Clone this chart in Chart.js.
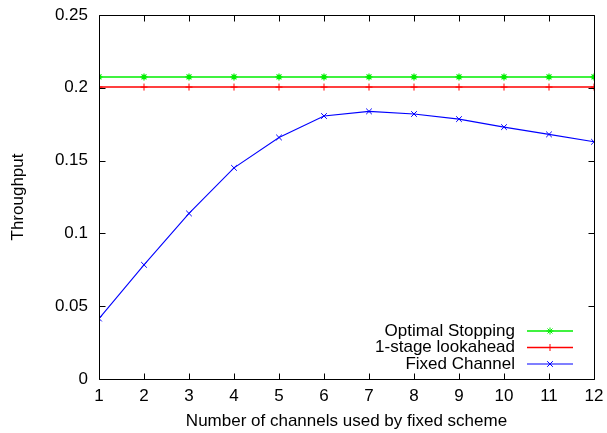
<!DOCTYPE html>
<html>
<head>
<meta charset="utf-8">
<script src="https://cdn.jsdelivr.net/npm/chart.js@4/dist/chart.umd.min.js"></script>
<style>
html,body{margin:0;padding:0;background:#fff;}
#wrap{width:607px;height:433px;position:relative;}
</style>
</head>
<body>
<div id="wrap"><canvas id="c" width="607" height="433"></canvas></div>
<script>
const channels = [1, 2, 3, 4, 5, 6, 7, 8, 9, 10, 11, 12];
const optimalStopping = [0.2075, 0.2075, 0.2075, 0.2075, 0.2075, 0.2075, 0.2075, 0.2075, 0.2075, 0.2075, 0.2075, 0.2075];
const lookahead = [0.2005, 0.2005, 0.2005, 0.2005, 0.2005, 0.2005, 0.2005, 0.2005, 0.2005, 0.2005, 0.2005, 0.2005];
const fixedChannel = [0.0415, 0.0784, 0.1137, 0.145, 0.1659, 0.1806, 0.1838, 0.182, 0.1785, 0.173, 0.168, 0.1629];
const yTickValues = [0, 0.05, 0.1, 0.15, 0.2, 0.25];
const yTickLabels = ['0', '0.05', '0.1', '0.15', '0.2', '0.25'];
const seriesNames = ['Optimal Stopping', '1-stage lookahead', 'Fixed Channel'];
const xTitle = 'Number of channels used by fixed scheme';
const yTitle = 'Throughput';

const FONT = '"Liberation Sans", Arial, Helvetica, sans-serif';

function toXY(vals){ return channels.map((c,i)=>({x:c,y:vals[i]})); }

function drawMarker(ctx, style, x, y, r){
  ctx.beginPath();
  if (style === 'cross' || style === 'star'){
    ctx.moveTo(x-r,y); ctx.lineTo(x+r,y);
    ctx.moveTo(x,y-r); ctx.lineTo(x,y+r);
  }
  if (style === 'crossRot' || style === 'star'){
    const d = r*Math.SQRT1_2;
    ctx.moveTo(x-d,y-d); ctx.lineTo(x+d,y+d);
    ctx.moveTo(x-d,y+d); ctx.lineTo(x+d,y-d);
  }
  ctx.stroke();
}

const framePlugin = {
  id:'frame',
  afterDatasetsDraw(chart){
    const ctx = chart.ctx;
    const a = chart.chartArea;
    const xs = chart.scales.x, ys = chart.scales.y;
    ctx.save();
    ctx.strokeStyle = '#000';
    ctx.lineWidth = 1;
    const L = Math.round(a.left)+0.5, R = Math.round(a.right)+0.5, T = Math.round(a.top)+0.5, B = Math.round(a.bottom)+0.5;
    ctx.beginPath();
    ctx.rect(L, T, R-L, B-T);
    ctx.stroke();
    const tl = 6;
    ctx.beginPath();
    xs.ticks.forEach(t=>{
      const px = Math.round(xs.getPixelForValue(t.value))+0.5;
      ctx.moveTo(px,B); ctx.lineTo(px,B-tl);
      ctx.moveTo(px,T); ctx.lineTo(px,T+tl);
    });
    ys.ticks.forEach(t=>{
      const py = Math.round(ys.getPixelForValue(t.value))+0.5;
      ctx.moveTo(L,py); ctx.lineTo(L+tl,py);
      ctx.moveTo(R,py); ctx.lineTo(R-tl,py);
    });
    ctx.stroke();

    // legend inside plot, bottom right
    ctx.font = '17px ' + FONT;
    ctx.textAlign = 'right';
    ctx.textBaseline = 'middle';
    const rows = [331, 347.5, 364];
    chart.data.datasets.forEach((ds,i)=>{
      const y = rows[i];
      ctx.fillStyle = '#000';
      ctx.fillText(ds.label, 515, y);
      ctx.strokeStyle = ds.borderColor;
      ctx.lineWidth = ds.borderWidth;
      ctx.beginPath(); ctx.moveTo(527,y); ctx.lineTo(573,y); ctx.stroke();
      ctx.lineWidth = 1;
      drawMarker(ctx, ds.pointStyle, 550, y, ds.pointRadius);
    });
    ctx.restore();
  }
};

new Chart(document.getElementById('c'), {
  type:'line',
  data:{
    datasets:[
      {label:seriesNames[0], data:toXY(optimalStopping), borderColor:'#00ee00', backgroundColor:'#00ee00', borderWidth:1.5, pointStyle:'star', pointRadius:3.5, pointBorderWidth:1.2, pointBorderColor:'#00ee00'},
      {label:seriesNames[1], data:toXY(lookahead), borderColor:'#ff0000', backgroundColor:'#ff0000', borderWidth:1.5, pointStyle:'cross', pointRadius:3.5, pointBorderWidth:1, pointBorderColor:'#ff0000'},
      {label:seriesNames[2], data:toXY(fixedChannel), borderColor:'#0000ff', backgroundColor:'#0000ff', borderWidth:1.1, pointStyle:'crossRot', pointRadius:4, pointBorderWidth:1, pointBorderColor:'#0000ff'}
    ]
  },
  options:{
    responsive:false,
    animation:false,
    events:[],
    layout:{padding:{left:0,right:13,top:15,bottom:0}},
    plugins:{legend:{display:false}, tooltip:{enabled:false}},
    elements:{line:{tension:0}},
    scales:{
      x:{
        type:'linear', min:1, max:12,
        grid:{display:false, drawTicks:false},
        border:{display:false},
        ticks:{stepSize:1, color:'#000', font:{family:FONT, size:17}, padding:7, maxRotation:0},
        title:{display:true, text:xTitle, color:'#000', font:{family:FONT, size:17}, padding:{top:0,bottom:1}},
        afterFit(s){ s.height = 54; s.paddingLeft = 0; s.paddingRight = 0; }
      },
      y:{
        type:'linear', min:0, max:0.25,
        grid:{display:false, drawTicks:false},
        border:{display:false},
        afterBuildTicks(s){ s.ticks = yTickValues.map(v=>({value:v})); },
        ticks:{color:'#000', font:{family:FONT, size:17}, padding:11,
          callback:(v)=>{ const i = yTickValues.findIndex(t=>Math.abs(t-v)<1e-9); return i>=0 ? yTickLabels[i] : ''; }},
        title:{display:true, text:yTitle, color:'#000', font:{family:FONT, size:17}, padding:{top:8,bottom:0}},
        afterFit(s){ s.width = 99; s.paddingTop = 0; s.paddingBottom = 0; }
      }
    }
  },
  plugins:[framePlugin]
});
</script>
</body>
</html>
